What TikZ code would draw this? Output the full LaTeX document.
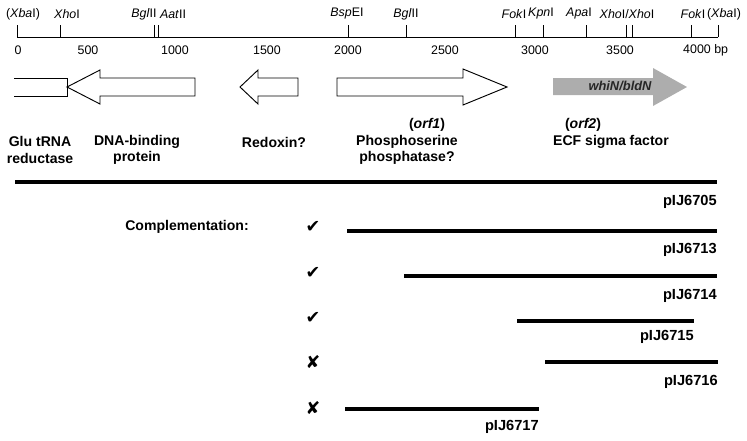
\documentclass[tikz,border=0pt]{standalone}
\usepackage{fontspec}
\setmainfont{Liberation Sans}
\newfontfamily\symbolfont{DejaVu Sans}
\usetikzlibrary{positioning}

\begin{document}
\begin{tikzpicture}[
    x=0.03cm, y=-0.03cm,
    site/.style={inner sep=0pt, font=\fontsize{10.6}{12}\selectfont},
    axis/.style={line width=0.6pt},
    gene/.style={draw, line width=0.8pt, line join=miter},
    genelabel/.style={inner sep=0pt, align=center, font=\fontsize{12}{14}\selectfont\bfseries},
    clone/.style={line width=3pt},
    clonelabel/.style={inner sep=0pt, anchor=east, font=\fontsize{12.5}{14}\selectfont\bfseries},
    resultmark/.style={inner sep=0pt, font=\fontsize{15}{16}\selectfont\symbolfont}
]
\useasboundingbox (0,0) rectangle (747,440);

% Restriction sites
\foreach \x/\t [count=\i] in {23/{(\textit{Xba}I)}, 67/{\textit{Xho}I}, 144/{\textit{Bgl}II},
    173/{\textit{Aat}II}, 347/{\textit{Bsp}EI}, 406/{\textit{Bgl}II}, 514/{\textit{Fok}I},
    541/{\textit{Kpn}I}, 579/{\textit{Apa}I}, 627/{\textit{Xho}I/\textit{Xho}I},
    693/{\textit{Fok}I}, 724/{(\textit{Xba}I)}}
  \node[site] (site\i) at (\x,14) {\t};

% Scale line and ticks
\coordinate (axisL) at (17,37);
\coordinate (axisR) at (718,37);
\draw[axis] (axisL) -- (axisR);
\foreach \x in {17,60,154,158,348,406,515,543,586,626,632,691,718}
  \draw[axis] (\x,37) -- (\x,25);

% Scale numbers
\foreach \x/\n in {18/0, 88/500, 175/1000, 267/1500, 348/2000, 445/2500, 535/3000, 620/3500}
  \node[site] (num\n) at (\x,50) {\n};
\node[site, anchor=west] (num4000) at (683,50) {4000 bp};

% Genes
\draw[gene] (14,78) -- (67,78) -- (67,96) -- (14,96);
\draw[gene] (67,87) -- (100,70) -- (100,78) -- (195,78) -- (195,96) -- (100,96) -- (100,104) -- cycle;
\draw[gene] (240,87) -- (258,70) -- (258,78) -- (298,78) -- (298,96) -- (258,96) -- (258,104) -- cycle;
\draw[gene] (337,78) -- (463,78) -- (463,69) -- (507,87) -- (463,105) -- (463,96) -- (337,96) -- cycle;
\fill[black!32] (553,78) -- (653,78) -- (653,68) -- (687,87) -- (653,106) -- (653,95) -- (553,95) -- cycle;
\node[inner sep=0pt, text=black!85, font=\fontsize{11}{12}\selectfont\bfseries\itshape] (whiN) at (620,86) {whiN/bldN};

% Gene labels
\node[genelabel] (glu) at (40,150) {Glu tRNA\\reductase};
\node[genelabel] (dnabind) at (137,150) {DNA-binding\\protein};
\node[genelabel] (redoxin) at (274,142) {Redoxin?};
\node[genelabel] (orf1) at (427,125) {(\textit{orf1})};
\node[genelabel] (psp) at (407,150) {Phosphoserine\\phosphatase?};
\node[genelabel] (orf2) at (583,125) {(\textit{orf2})};
\node[genelabel] (ecf) at (611,142) {ECF sigma factor};

% Subclones
\coordinate (c05a) at (15,182);  \coordinate (c05b) at (717,182);
\coordinate (c13a) at (347,231); \coordinate (c13b) at (717,231);
\coordinate (c14a) at (404,276); \coordinate (c14b) at (717,276);
\coordinate (c15a) at (517,321); \coordinate (c15b) at (694,321);
\coordinate (c16a) at (545,362); \coordinate (c16b) at (718,362);
\coordinate (c17a) at (345,409); \coordinate (c17b) at (539,409);
\draw[clone] (c05a) -- (c05b);
\draw[clone] (c13a) -- (c13b);
\draw[clone] (c14a) -- (c14b);
\draw[clone] (c15a) -- (c15b);
\draw[clone] (c16a) -- (c16b);
\draw[clone] (c17a) -- (c17b);
\node[clonelabel] (p6705) at (717,202) {pIJ6705};
\node[clonelabel] (p6713) at (717,250) {pIJ6713};
\node[clonelabel] (p6714) at (717,296) {pIJ6714};
\node[clonelabel] (p6715) at (694,337) {pIJ6715};
\node[clonelabel] (p6716) at (718,382) {pIJ6716};
\node[clonelabel] (p6717) at (539,427) {pIJ6717};

% Complementation results
\node[genelabel] (compl) at (187,227) {Complementation:};
\node[resultmark] (r13) at (313,227) {✔};
\node[resultmark] (r14) at (313,273) {✔};
\node[resultmark] (r15) at (313,318) {✔};
\node[resultmark] (r16) at (313,362) {✘};
\node[resultmark] (r17) at (313,408) {✘};

\end{tikzpicture}
\end{document}
